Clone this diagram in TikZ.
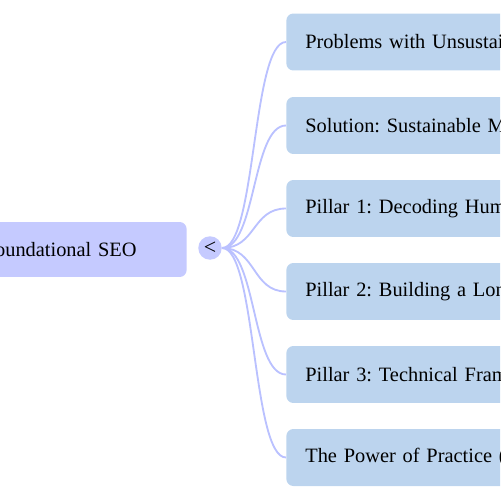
\documentclass[tikz,border=0pt]{standalone}
\usepackage{fontspec}
\setmainfont{Liberation Serif}
\frenchspacing
\usetikzlibrary{calc, positioning}
\definecolor{mroot}{HTML}{C5CAFF}
\definecolor{mleaf}{HTML}{BCD4EE}
\definecolor{mlink}{HTML}{BAC1FF}
\tikzset{
  rootbox/.style={fill=mroot, rounded corners=4pt, minimum height=1.1cm,
                  text width=4cm, align=right, inner xsep=1cm,
                  font=\fontsize{11.6}{13}\selectfont},
  leaf/.style={fill=mleaf, rounded corners=4pt, minimum height=1.14cm,
               text width=4.6cm, align=left, inner xsep=0.38cm,
               font=\fontsize{11.6}{13}\selectfont},
  fold/.style={circle, fill=mroot, minimum size=0.47cm, inner sep=0pt,
               font=\fontsize{12.5}{13}\selectfont},
  link/.style={draw=mlink, line width=1.05pt},
}
\begin{document}
\begin{tikzpicture}[x=0.02cm, y=-0.02cm]
  \useasboundingbox (0,0) rectangle (500,500);
  \clip (0,0) rectangle (500,500);
  \node[rootbox, anchor=east] (root) at (187,249.5) {Foundational SEO};
  \node[fold] (tog) at (210,248) {<};
  \node[leaf, anchor=west] (b1) at (286,42)    {Problems with Unsustai};
  \node[leaf, anchor=west] (b2) at (286,125.5) {Solution: Sustainable M};
  \node[leaf, anchor=west] (b3) at (286,208.5) {Pillar 1: Decoding Hum};
  \node[leaf, anchor=west] (b4) at (286,291.5) {Pillar 2: Building a Lon};
  \node[leaf, anchor=west] (b5) at (286,374.5) {Pillar 3: Technical Fram};
  \node[leaf, anchor=west] (b6) at (286,457.5) {The Power of Practice (};
  \foreach \b in {b1,b2,b3,b4,b5,b6}
    \draw[link] (tog.east) .. controls ($(tog.east)+(34,0)$) and ($(\b.west)+(-34,0)$) .. (\b.west);
\end{tikzpicture}
\end{document}
